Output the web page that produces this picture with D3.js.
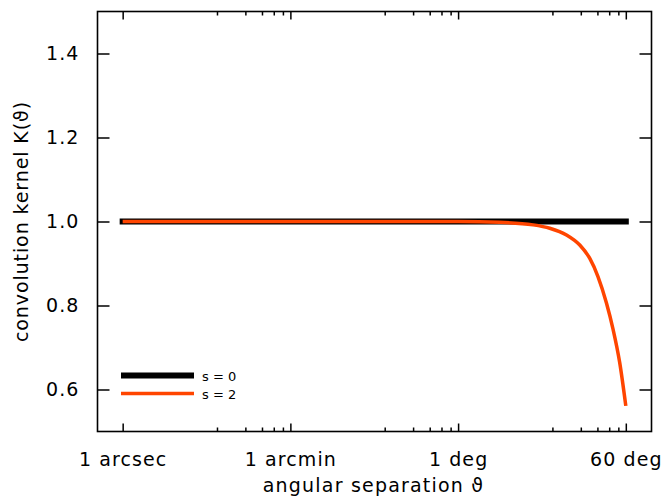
<!DOCTYPE html>
<html>
<head>
<meta charset="utf-8">
<script src="https://cdn.jsdelivr.net/npm/d3@7"></script>
<style>
  html, body { margin: 0; padding: 0; background: #fff; }
  svg { display: block; }
  text { font-family: "DejaVu Sans", sans-serif; fill: #000; }
</style>
</head>
<body>
<svg id="chart" width="665" height="497"></svg>
<script>
// ---- data ----
const seriesNames = ["s = 0", "s = 2"];
const seriesColors = ["#000000", "#ff4500"];
// angular separation in degrees
const thetaS0 = [1 / 3600, 60];
const kernelS0 = [1.0, 1.0];
const thetaS2 = [1 / 3600, 1 / 60, 1, 2.77, 6.23, 9.37, 14.1, 19.5, 24.9, 30.4, 37.4, 43.9, 51.7, 60];
const kernelS2 = [1.0, 1.0, 0.9998, 0.998, 0.992, 0.984, 0.968, 0.944, 0.912, 0.869, 0.806, 0.744, 0.664, 0.561];
// tick positions (arcsec) and labels
const majorTicks = [1, 60, 3600, 216000];
const majorLabels = ["1 arcsec", "1 arcmin", "1 deg", "60 deg"];
const minorTicks = [10, 20, 30, 40, 50, 600, 1200, 1800, 2400, 3000, 36000, 72000, 108000, 144000, 180000];
const yTicks = [0.6, 0.8, 1.0, 1.2, 1.4];

// ---- layout ----
const pL = 97.5, pR = 651.5, pT = 11.5, pB = 431.5;
const svg = d3.select("#chart");

const x = d3.scaleLog().domain([0.541, 404400]).range([pL, pR]);
const y = d3.scaleLinear().domain([0.5, 1.5]).range([pB, pT]);

const fs = 19;

const gB = svg.append("g").attr("transform", `translate(0,${pB})`)
  .call(d3.axisBottom(x).tickValues(majorTicks)
    .tickFormat((d, i) => majorLabels[i]).tickSizeInner(-8).tickSizeOuter(0).tickPadding(21));
const gBm = svg.append("g").attr("transform", `translate(0,${pB})`)
  .call(d3.axisBottom(x).tickValues(minorTicks).tickFormat("").tickSizeInner(-4).tickSizeOuter(0));
const gT = svg.append("g").attr("transform", `translate(0,${pT})`)
  .call(d3.axisTop(x).tickValues(majorTicks).tickFormat("").tickSizeInner(-8).tickSizeOuter(0));
const gTm = svg.append("g").attr("transform", `translate(0,${pT})`)
  .call(d3.axisTop(x).tickValues(minorTicks).tickFormat("").tickSizeInner(-4).tickSizeOuter(0));
const gL = svg.append("g").attr("transform", `translate(${pL},0)`)
  .call(d3.axisLeft(y).tickValues(yTicks).tickFormat(d3.format(".1f"))
    .tickSizeInner(-12).tickSizeOuter(0).tickPadding(18));
const gR = svg.append("g").attr("transform", `translate(${pR},0)`)
  .call(d3.axisRight(y).tickValues(yTicks).tickFormat("")
    .tickSizeInner(-12).tickSizeOuter(0));

[gB, gBm, gT, gTm, gL, gR].forEach(g => {
  g.select(".domain").remove();
  g.selectAll("line").attr("stroke", "#000").attr("stroke-width", 1.5);
  g.selectAll("text").attr("font-size", fs).attr("font-family", "DejaVu Sans, sans-serif")
    .attr("fill", "#000").attr("letter-spacing", 1.1);
});

svg.append("rect").attr("x", pL).attr("y", pT)
  .attr("width", pR - pL).attr("height", pB - pT)
  .attr("fill", "none").attr("stroke", "#000").attr("stroke-width", 1.6);

svg.append("text").attr("x", (pL + pR) / 2 - 1).attr("y", 492)
  .attr("text-anchor", "middle").attr("font-size", fs).attr("letter-spacing", 1.2)
  .text("angular separation ϑ");
svg.append("text").attr("transform", `translate(28,${(pT + pB) / 2}) rotate(-90)`)
  .attr("text-anchor", "middle").attr("font-size", fs).attr("letter-spacing", 0.9)
  .text("convolution kernel K(ϑ)");

const line = d3.line().x(d => x(d[0] * 3600)).y(d => y(d[1])).curve(d3.curveMonotoneX);
const dataS0 = thetaS0.map((t, i) => [t, kernelS0[i]]);
const dataS2 = thetaS2.map((t, i) => [t, kernelS2[i]]);

svg.append("path").datum(dataS0).attr("d", line)
  .attr("fill", "none").attr("stroke", seriesColors[0]).attr("stroke-width", 6)
  .attr("stroke-linecap", "square");
svg.append("path").datum(dataS2).attr("d", line)
  .attr("fill", "none").attr("stroke", seriesColors[1]).attr("stroke-width", 3.5)
  .attr("stroke-linecap", "butt").attr("stroke-linejoin", "round");

const legY = [375.5, 393.5];
const legW = [6, 3.5];
seriesNames.forEach((name, i) => {
  svg.append("line").attr("x1", 121).attr("x2", 194)
    .attr("y1", legY[i]).attr("y2", legY[i])
    .attr("stroke", seriesColors[i]).attr("stroke-width", legW[i]);
  svg.append("text").attr("x", 202).attr("y", legY[i] + 5)
    .attr("font-size", 13).text(name);
});
</script>
</body>
</html>
